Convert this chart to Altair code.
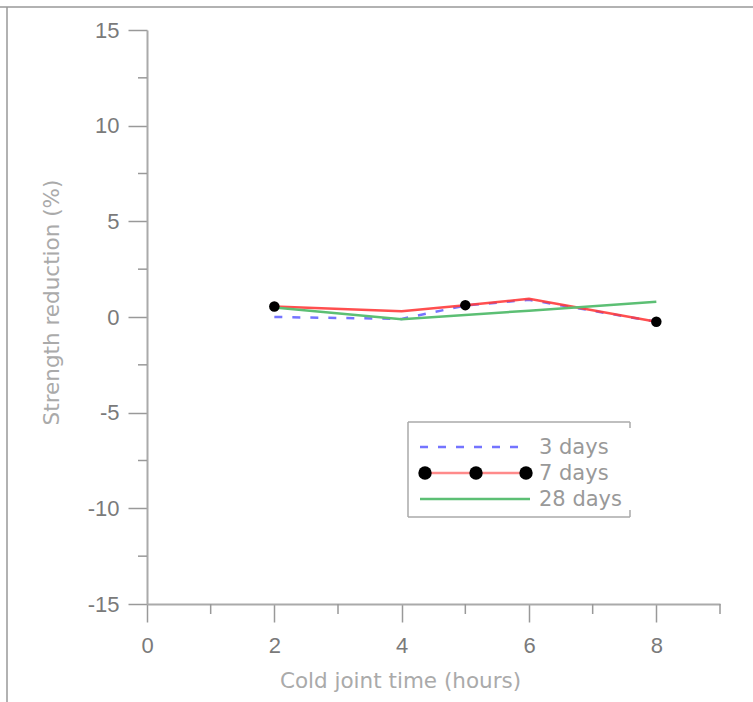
import altair as alt
import pandas as pd

# ---- data ----
hours_3d = [2, 4, 5, 6, 8]
reduction_3d = [0.0, -0.1, 0.6, 0.9, -0.25]

hours_7d = [2, 4, 5, 6, 8]
reduction_7d = [0.55, 0.3, 0.62, 0.95, -0.25]
marker_hours_7d = [2, 5, 8]

hours_28d = [2, 4, 6, 8]
reduction_28d = [0.5, -0.12, 0.33, 0.8]

series_names = ["3 days", "7 days", "28 days"]

x_major = [0, 2, 4, 6, 8]
x_minor = [1, 3, 5, 7, 9]
y_major = [-15, -10, -5, 0, 5, 10, 15]
y_minor = [-12.5, -7.5, -2.5, 2.5, 7.5, 12.5]

W, H = 573, 574

df3 = pd.DataFrame({"x": hours_3d, "y": reduction_3d})
df7 = pd.DataFrame({"x": hours_7d, "y": reduction_7d})
df7m = df7[df7["x"].isin(marker_hours_7d)]
df28 = pd.DataFrame({"x": hours_28d, "y": reduction_28d})

AXIS_GRAY = "#aaaaaa"
TICK_GRAY = "#999999"
LABEL_GRAY = "#7a7a7a"
TITLE_GRAY = "#aaaaaa"

xscale = alt.Scale(domain=[0, 9], nice=False, zero=False)
yscale = alt.Scale(domain=[-15, 15], nice=False, zero=False)

x_axis = alt.Axis(
    values=x_major, tickSize=18, tickColor=TICK_GRAY, tickWidth=1.5,
    domainColor=AXIS_GRAY, domainWidth=2, grid=False,
    labelFont="Liberation Sans", labelFontSize=22, labelColor=LABEL_GRAY,
    labelPadding=13, labelFlush=False, labelExpr="'' + datum.value",
    title="Cold joint time (hours)", titleFont="DejaVu Sans", titleFontSize=21.5,
    titleFontWeight="normal", titleColor=TITLE_GRAY, titleX=253, titleY=83,
    titleAlign="center", titleBaseline="alphabetic",
)
y_axis = alt.Axis(
    values=y_major, tickSize=19, tickColor=TICK_GRAY, tickWidth=1.5,
    domainColor=AXIS_GRAY, domainWidth=2, grid=False,
    labelFont="Liberation Sans", labelFontSize=22, labelColor=LABEL_GRAY,
    labelPadding=9, labelFlush=False, labelExpr="'' + datum.value",
    title="Strength reduction (%)", titleFont="DejaVu Sans", titleFontSize=21.5,
    titleFontWeight="normal", titleColor=TITLE_GRAY, titleX=-89, titleY=272,
    titleAngle=270, titleAlign="center", titleBaseline="alphabetic",
)

X = alt.X("x:Q", scale=xscale, axis=x_axis)
Y = alt.Y("y:Q", scale=yscale, axis=y_axis)

BLUE = "#5c5cff"
RED = "#ff3c3c"
GREEN = "#5cbf74"

line3 = alt.Chart(df3).mark_line(color=BLUE, strokeWidth=2.5, strokeDash=[8, 10], opacity=0.85).encode(
    x=X, y=Y, order="x:Q")
line7 = alt.Chart(df7).mark_line(color=RED, strokeWidth=2.5, opacity=0.9).encode(
    x=X, y=Y, order="x:Q")
line28 = alt.Chart(df28).mark_line(color=GREEN, strokeWidth=2.5).encode(
    x=X, y=Y, order="x:Q")
pts7 = alt.Chart(df7m).mark_point(filled=True, color="black", size=110, opacity=1).encode(
    x=X, y=Y)

# minor ticks
xminor = alt.Chart(pd.DataFrame({"x": x_minor})).mark_rule(color=TICK_GRAY, strokeWidth=1.5).encode(
    x=X, y=alt.value(H), y2=alt.value(H + 10))
yminor = alt.Chart(pd.DataFrame({"y": y_minor})).mark_rule(color=TICK_GRAY, strokeWidth=1.5).encode(
    y=Y, x=alt.value(-9), x2=alt.value(0))

one = pd.DataFrame({"a": [0]})

# outer frame (top and left edges)
frame_top = alt.Chart(one).mark_rule(color="#999999", strokeWidth=1.5).encode(
    x=alt.value(-147), x2=alt.value(606), y=alt.value(-23))
frame_left = alt.Chart(one).mark_rule(color="#999999", strokeWidth=1.5).encode(
    x=alt.value(-140), y=alt.value(-23), y2=alt.value(672))

# legend box
LX0, LX1, LY0, LY1 = 261, 483, 392, 487
box_color = "#aaaaaa"
legend_layers = [
    alt.Chart(one).mark_rule(color=box_color, strokeWidth=1.5).encode(
        x=alt.value(LX0), x2=alt.value(LX1), y=alt.value(LY0)),
    alt.Chart(one).mark_rule(color=box_color, strokeWidth=1.5).encode(
        x=alt.value(LX0), x2=alt.value(LX1), y=alt.value(LY1)),
    alt.Chart(one).mark_rule(color=box_color, strokeWidth=1.5).encode(
        x=alt.value(LX0), y=alt.value(LY0), y2=alt.value(LY1)),
    alt.Chart(one).mark_rule(color=box_color, strokeWidth=1.5).encode(
        x=alt.value(LX1), y=alt.value(LY0), y2=alt.value(LY0 + 6)),
    alt.Chart(one).mark_rule(color=box_color, strokeWidth=1.5).encode(
        x=alt.value(LX1), y=alt.value(LY1 - 7), y2=alt.value(LY1)),
]

row_y = [417, 443, 469]
# row 1: blue dashed
legend_layers.append(alt.Chart(one).mark_rule(color=BLUE, strokeWidth=2.5, strokeDash=[8, 10], opacity=0.85).encode(
    x=alt.value(273), x2=alt.value(378), y=alt.value(row_y[0])))
# row 2: red with markers
legend_layers.append(alt.Chart(one).mark_rule(color=RED, strokeWidth=2.5, opacity=0.6).encode(
    x=alt.value(278), x2=alt.value(380), y=alt.value(row_y[1])))
for mx in [278, 329, 379]:
    legend_layers.append(alt.Chart(one).mark_point(filled=True, color="black", size=180, opacity=1).encode(
        x=alt.value(mx), y=alt.value(row_y[1])))
# row 3: green
legend_layers.append(alt.Chart(one).mark_rule(color=GREEN, strokeWidth=2.5).encode(
    x=alt.value(273), x2=alt.value(383), y=alt.value(row_y[2])))
for name, ry in zip(series_names, row_y):
    legend_layers.append(alt.Chart(one).mark_text(
        align="left", baseline="middle", font="DejaVu Sans", fontSize=21, color="#999999").encode(
        x=alt.value(392), y=alt.value(ry + 1), text=alt.value(name)))

chart = alt.layer(
    frame_top, frame_left, xminor, yminor, line3, line7, line28, pts7, *legend_layers
).properties(
    width=W, height=H,
    background="white",
    autosize=alt.AutoSizeParams(type="none"),
    padding={"left": 147, "top": 30, "right": 33, "bottom": 98},
).configure_view(strokeWidth=0)

chart.save("out.html", embed_options={"renderer": "svg", "actions": False})
